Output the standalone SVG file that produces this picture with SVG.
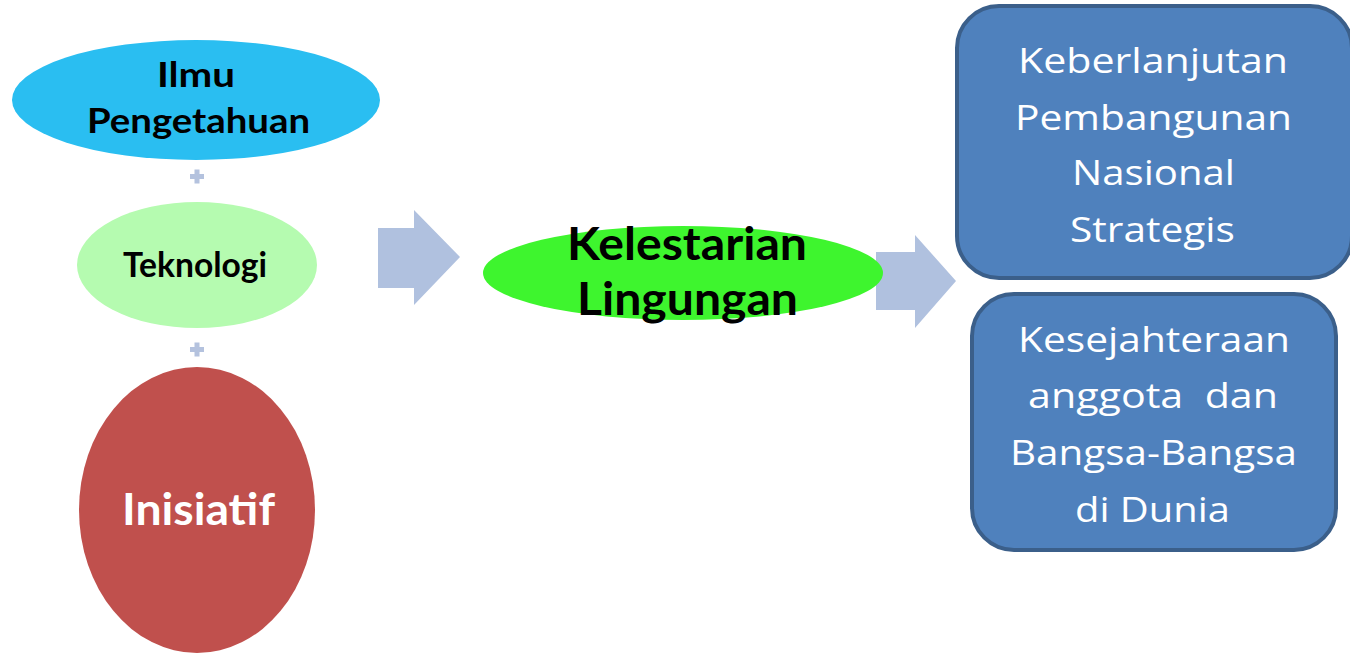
<svg xmlns="http://www.w3.org/2000/svg" width="1350" height="654" viewBox="0 0 1350 654">
<style>
.b{font-family:Lato,"Open Sans",sans-serif;font-weight:bold;text-anchor:middle;fill:#000}
.w{font-family:"Open Sans",Lato,sans-serif;text-anchor:middle;fill:#fff;font-size:35px}
.box{fill:#4F81BD;stroke:#3B5F8A;stroke-width:4}
.arr{fill:#B0C1DF}
.plus{fill:#B4C2DE}
</style>
<rect width="1350" height="654" fill="#fff"/>
<g id="ilmu">
<ellipse cx="196" cy="100" rx="184" ry="60" fill="#2ABEF1"/>
<text class="b" x="196" y="87" font-size="35" textLength="78" lengthAdjust="spacingAndGlyphs">Ilmu</text>
<text class="b" x="198.5" y="133" font-size="35" textLength="223" lengthAdjust="spacingAndGlyphs">Pengetahuan</text>
</g>
<g id="plus1" class="plus"><rect x="190" y="174" width="14" height="5"/><rect x="194.5" y="169.5" width="5" height="14"/></g>
<g id="teknologi">
<ellipse cx="197" cy="265" rx="120" ry="63" fill="#B5FBB0"/>
<text class="b" x="195" y="277" font-size="35" textLength="144" lengthAdjust="spacingAndGlyphs">Teknologi</text>
</g>
<g id="plus2" class="plus"><rect x="190" y="347" width="14" height="5"/><rect x="194.5" y="342.5" width="5" height="14"/></g>
<g id="inisiatif">
<ellipse cx="197" cy="510" rx="118" ry="143" fill="#C0504D"/>
<text class="b" x="198.5" y="525" font-size="44" style="fill:#fff" textLength="153" lengthAdjust="spacingAndGlyphs">Inisiatif</text>
</g>
<g id="connectors">
<polygon class="arr" points="378,228 414,228 414,210 460,257 414,305 414,288 378,288"/>
<polygon class="arr" points="876,252 915,252 915,235 956,281 915,328 915,310 876,310"/>
</g>
<g id="kelestarian">
<ellipse cx="683" cy="273" rx="200" ry="47" fill="#3EF52E"/>
<text class="b" x="687" y="260" font-size="46" textLength="240" lengthAdjust="spacingAndGlyphs">Kelestarian</text>
<text class="b" x="687.5" y="315" font-size="46" textLength="221" lengthAdjust="spacingAndGlyphs">Lingungan</text>
</g>
<g id="keberlanjutan">
<rect class="box" x="957" y="6" width="395" height="272" rx="42"/>
<text class="w" x="1153" y="73" textLength="270" lengthAdjust="spacingAndGlyphs">Keberlanjutan</text>
<text class="w" x="1153.5" y="130" textLength="277" lengthAdjust="spacingAndGlyphs">Pembangunan</text>
<text class="w" x="1153.5" y="185" textLength="163" lengthAdjust="spacingAndGlyphs">Nasional</text>
<text class="w" x="1152.5" y="242" textLength="165" lengthAdjust="spacingAndGlyphs">Strategis</text>
</g>
<g id="kesejahteraan">
<rect class="box" x="972" y="294" width="364" height="256" rx="42"/>
<text class="w" x="1154" y="352" textLength="272" lengthAdjust="spacingAndGlyphs">Kesejahteraan</text>
<text class="w" x="1153" y="408" xml:space="preserve" textLength="250" lengthAdjust="spacingAndGlyphs">anggota  dan</text>
<text class="w" x="1153.5" y="465" textLength="287" lengthAdjust="spacingAndGlyphs">Bangsa-Bangsa</text>
<text class="w" x="1152.5" y="522" textLength="155" lengthAdjust="spacingAndGlyphs">di Dunia</text>
</g>
</svg>
